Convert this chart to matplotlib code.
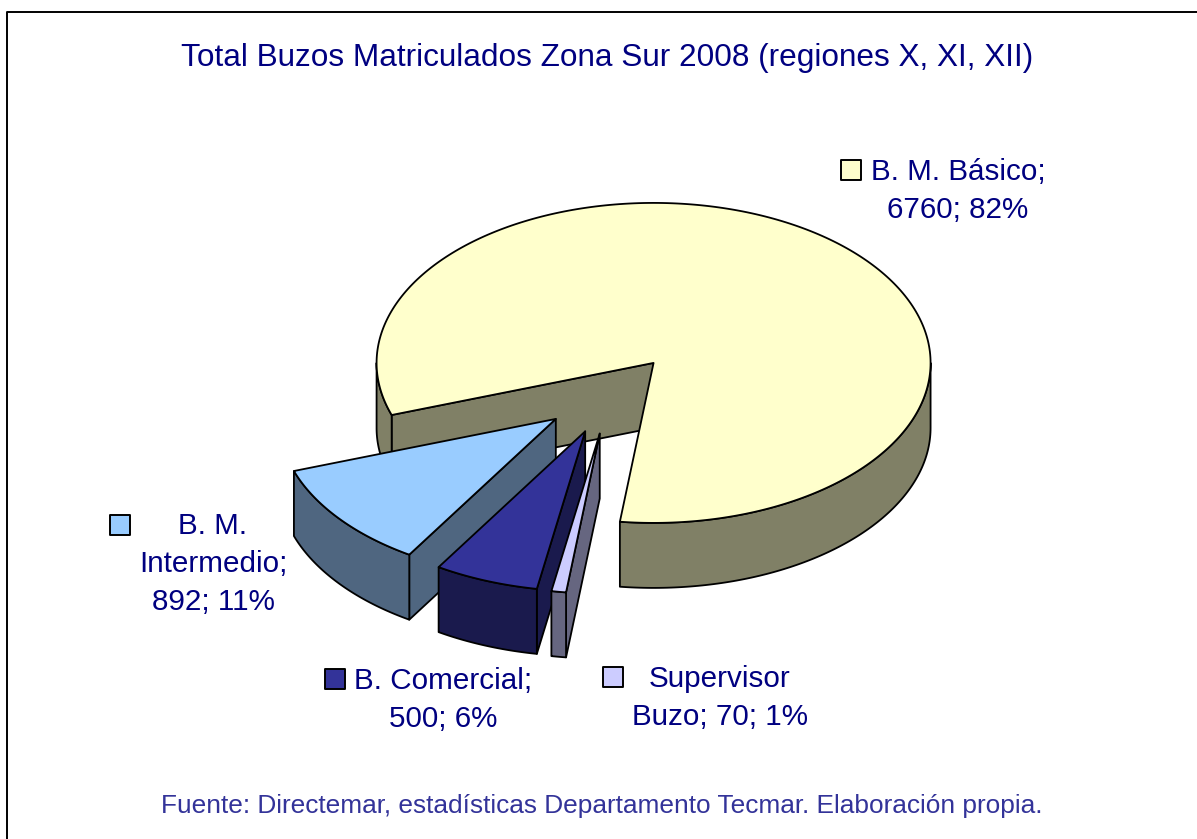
import numpy as np
import matplotlib
matplotlib.use('Agg')
import matplotlib.pyplot as plt

plt.rcParams['font.family'] = ['Liberation Sans', 'DejaVu Sans']

# clockwise order, starting from the cut on the left of the big slice
labels = ['B. M. Básico', 'Supervisor Buzo', 'B. Comercial', 'B. M. Intermedio']
values = [6760, 70, 500, 892]
tops = ['#FFFFCC', '#CCCCFF', '#333399', '#99CCFF']
sides = ['#808066', '#666680', '#1A1A4D', '#4F6680']

title = 'Total Buzos Matriculados Zona Sur 2008 (regiones X, XI, XII)'
source = 'Fuente: Directemar, estadísticas Departamento Tecmar. Elaboración propia.'

cx, cy = 610, 394
rx, ry = 277, 160
depth = 65
explode = 0.25
start = 251.0


def rim(a, c):
    a = np.radians(a)
    return np.column_stack([c[0] + rx * np.sin(a), c[1] - ry * np.cos(a)])


def visible_walls(a1, a2):
    # the rim only shows where it faces the viewer (90..270 from the top)
    parts = []
    for lo, hi in [(90, 270), (450, 630)]:
        s, e = max(a1, lo), min(a2, hi)
        if e > s:
            parts.append((s, e))
    return parts


fig = plt.figure(figsize=(11.97, 8.39), dpi=100)
ax = fig.add_axes([0, 0, 1, 1])
ax.set_xlim(0, 1197)
ax.set_ylim(839, 0)
ax.axis('off')

total = sum(values)
sweeps = [v / total * 360 for v in values]
ranges = []
a = start
for s in sweeps:
    ranges.append((a, a + s))
    a += s

style = dict(edgecolor='black', linewidth=1.3, joinstyle='round')

# back to front: big slice, then the small ones from left to right
for i in [0, 3, 2, 1]:
    a1, a2 = ranges[i]
    mid = np.radians((a1 + a2) / 2)
    c = (cx + explode * rx * np.sin(mid), cy - explode * ry * np.cos(mid))

    # cut faces
    if np.sin(np.radians(a1)) < 0:
        p = rim(np.array([a1]), c)[0]
        ax.fill([c[0], p[0], p[0], c[0]], [c[1], p[1], p[1] + depth, c[1] + depth],
                facecolor=sides[i], **style)
    if np.sin(np.radians(a2)) > 0:
        p = rim(np.array([a2]), c)[0]
        ax.fill([c[0], p[0], p[0], c[0]], [c[1], p[1], p[1] + depth, c[1] + depth],
                facecolor=sides[i], **style)

    # outer wall
    for s, e in visible_walls(a1, a2):
        arc = rim(np.linspace(s, e, 120), c)
        ax.fill(np.r_[arc[:, 0], arc[::-1, 0]], np.r_[arc[:, 1], arc[::-1, 1] + depth],
                facecolor=sides[i], **style)

    # top
    arc = rim(np.linspace(a1, a2, 300), c)
    ax.fill(np.r_[c[0], arc[:, 0]], np.r_[c[1], arc[:, 1]], facecolor=tops[i], **style)

# chart area border, only top and left show
ax.plot([6.5, 6.5, 1197], [839, 11.5, 11.5], color='black', linewidth=1.4, clip_on=False)

ax.text(607, 58, title, color='#000080', fontsize=22.7, ha='center', va='center')
ax.text(602, 806, source, color='#333399', fontsize=18.9, ha='center', va='center')

# name; value; pct, wrapped the way the chart wraps them
pct = [round(v / total * 100) for v in values]
text_rows = [
    (f'{labels[0]};', f'{values[0]}; {pct[0]}%'),
    (labels[1].split()[0], f'{labels[1].split()[1]}; {values[1]}; {pct[1]}%'),
    (f'{labels[2]};', f'{values[2]}; {pct[2]}%'),
    ('B. M.', 'Intermedio;', f'{values[3]}; {pct[3]}%'),
]
label_xy = [(958, 172), (720, 679), (443, 681), (213, 526)]
marker_xy = [(851, 170), (613, 677), (335, 679), (120, 525)]
line_gap = 38

for i in range(4):
    x, y = label_xy[i]
    for k, row in enumerate(text_rows[i]):
        ax.text(x, y + k * line_gap, row, color='#000080', fontsize=21.3, ha='center', va='center')
    ax.scatter(*marker_xy[i], marker='s', s=215, facecolor=tops[i], edgecolor='black', linewidth=1.4)

fig.savefig('out.png', dpi=100, facecolor='white')
